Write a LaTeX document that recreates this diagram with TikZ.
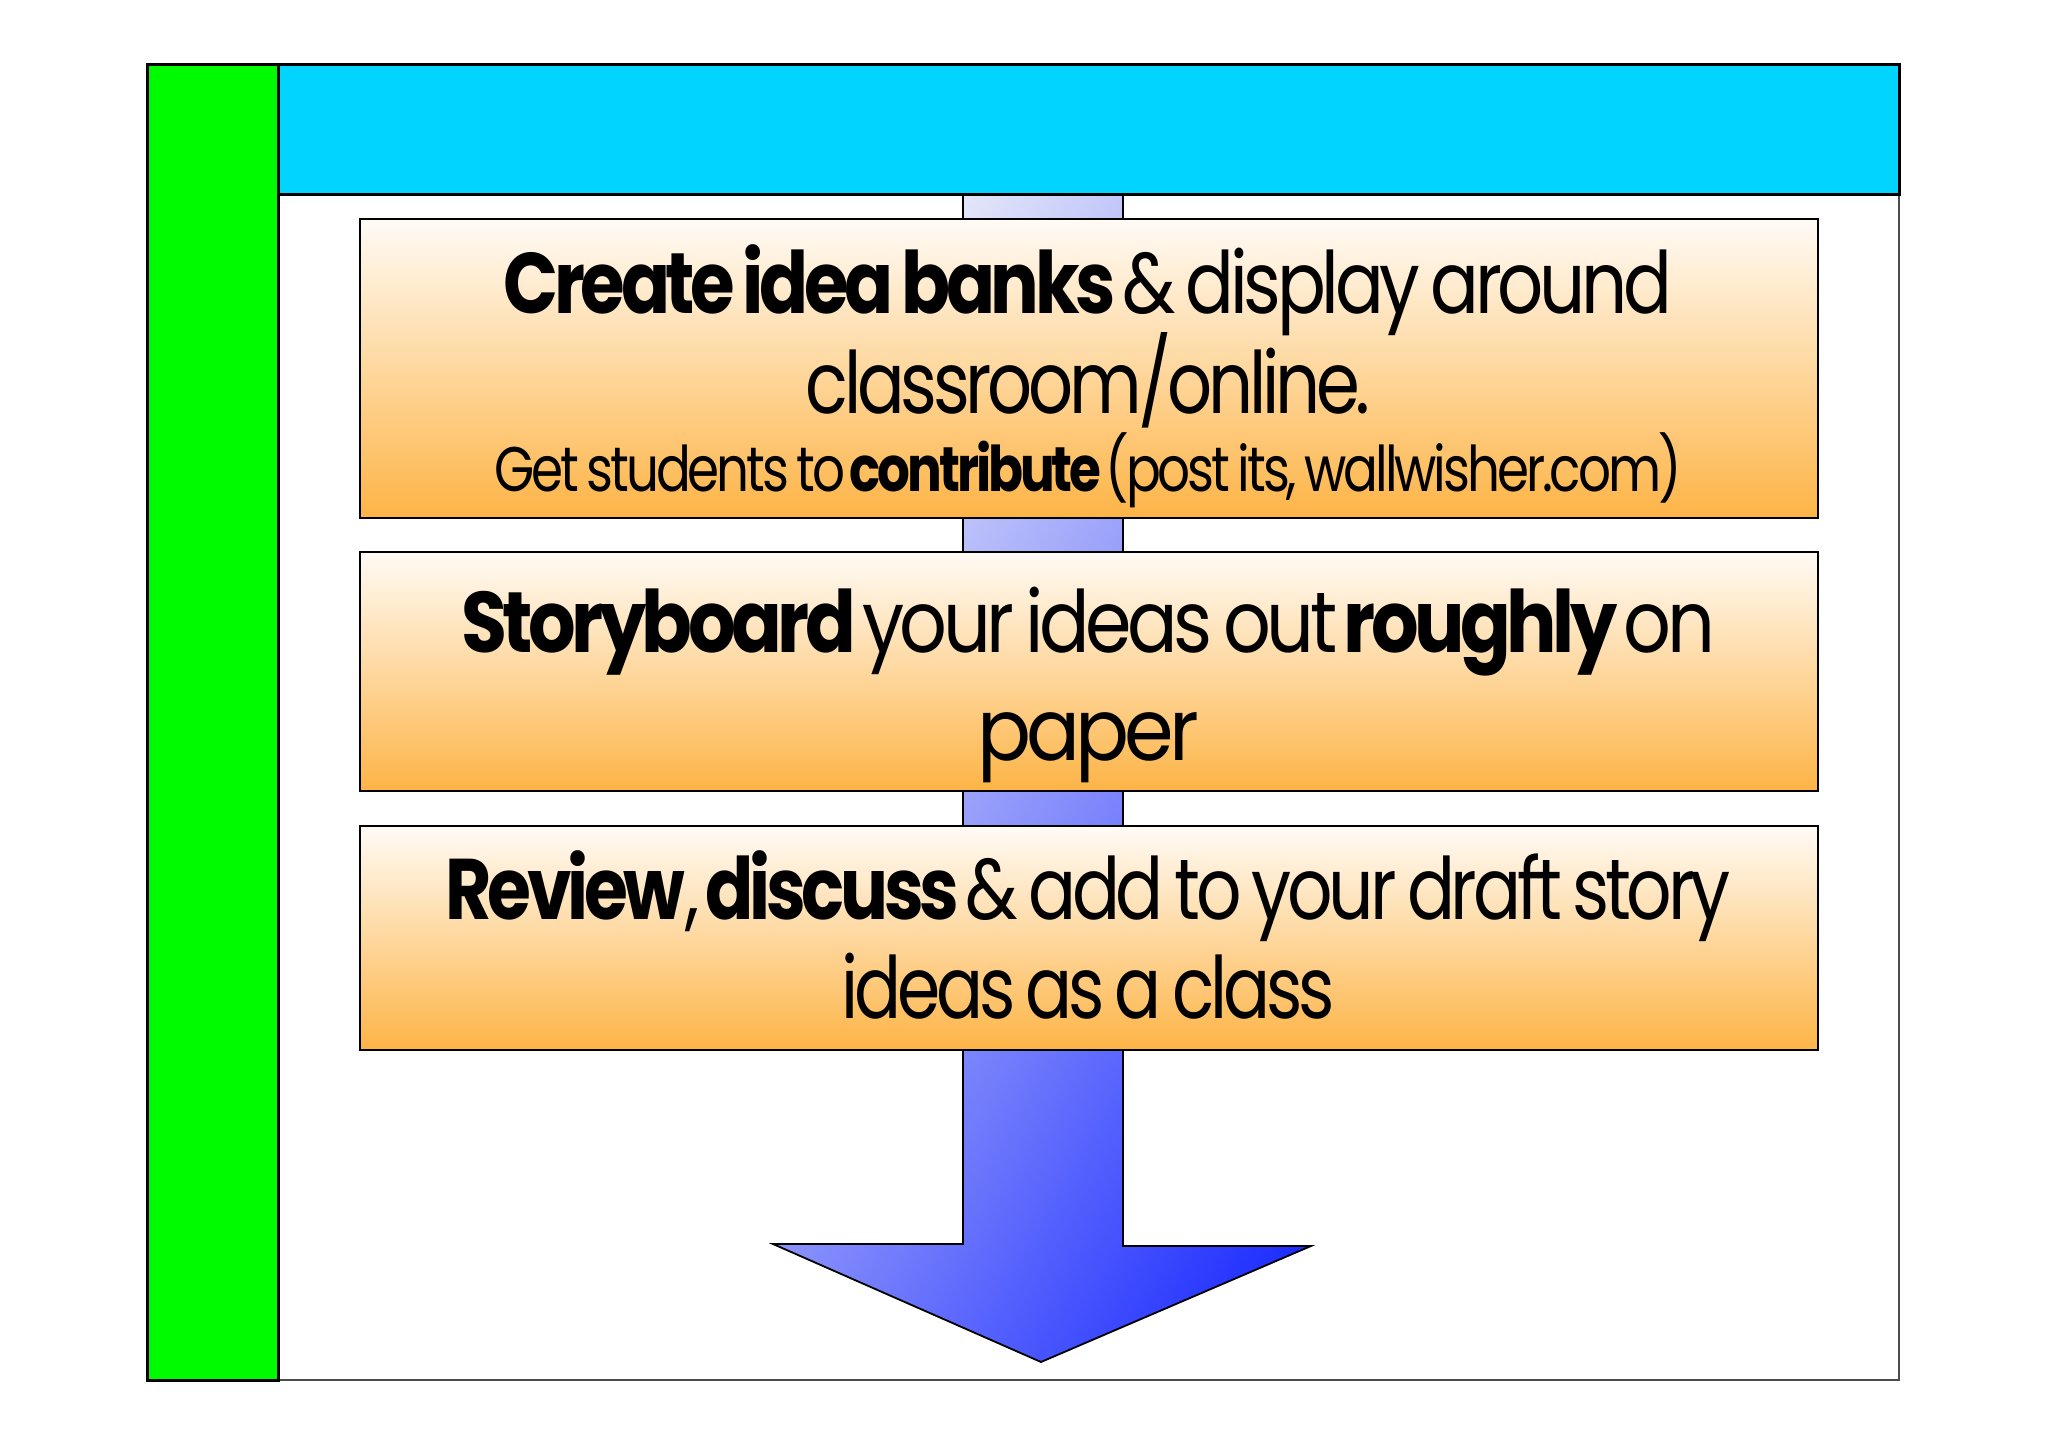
\documentclass[tikz,border=0pt]{standalone}
\usepackage{fontspec}
\setmainfont{Poppins}[LetterSpace=-6,WordSpace=0.7]
\definecolor{cyanbar}{RGB}{0,212,255}
\definecolor{greenbar}{RGB}{0,250,0}
\definecolor{boxtop}{RGB}{255,251,246}
\definecolor{boxbot}{RGB}{253,180,70}
\definecolor{arrtop}{RGB}{232,234,248}
\definecolor{arrbot}{RGB}{26,42,255}
\newsavebox\fitbox
\newcommand\fitw[2]{\sbox\fitbox{#2}\pgfmathsetmacro\fitr{#1/\the\wd\fitbox}\scalebox{\fitr}[1]{\usebox\fitbox}}
\begin{document}
\begin{tikzpicture}[x=1pt,y=1pt,
  stepbox/.style={draw=black, line width=2pt, top color=boxtop, bottom color=boxbot,
    anchor=north west, minimum width=1458pt, inner sep=0pt},
  txt/.style={anchor=base, inner sep=0pt, font=\fontsize{86}{90}\selectfont},
  smalltxt/.style={anchor=base, inner sep=0pt, font=\fontsize{63}{66}\selectfont},
  arrowline/.style={draw=black, line width=1.8pt}]
\useasboundingbox (0,0) rectangle (2048,-1447);
\fill[white] (0,0) rectangle (2048,-1447);
% white frame
\draw[draw=black!70, line width=2pt, fill=white] (278,-195) rectangle (1899,-1380);
% big arrow
\begin{scope}
\clip (963,-195) -- (1123,-195) -- (1123,-1246) -- (1311,-1246) -- (1041,-1362)
  -- (773,-1244) -- (963,-1244) -- cycle;
\shade[transform canvas={shift={(1043,-195)}, rotate=60}, top color=arrtop, bottom color=arrbot]
  (-1500,85) rectangle (1500,-763);
\end{scope}
\draw[arrowline] (963,-195) -- (1123,-195) -- (1123,-1246) -- (1311,-1246) -- (1041,-1362)
  -- (773,-1244) -- (963,-1244) -- cycle;
% boxes
\node[stepbox, minimum height=299pt] (b1) at (359,-218) {};
\node[stepbox, minimum height=239pt] (b2) at (359,-551) {};
\node[stepbox, minimum height=224pt] (b3) at (359,-825) {};
% texts
\node[txt] (t11) at (1088,-313) {\fitw{1169}{\textbf{Create idea banks} \& display around}};
\node[txt] (t12) at (1088,-413) {\fitw{565}{classroom/online.}};
\node[smalltxt] (t13) at (1088,-491) {\fitw{1187}{Get students to \textbf{contribute} (post its, wallwisher.com)}};
\node[txt] (t21) at (1088,-652) {\fitw{1254}{\textbf{Storyboard} your ideas out \textbf{roughly} on}};
\node[txt] (t22) at (1088,-760) {\fitw{222}{paper}};
\node[txt] (t31) at (1088,-919) {\fitw{1285}{\textbf{Review}, \textbf{discuss} \& add to your draft story}};
\node[txt] (t32) at (1088,-1018) {\fitw{493}{ideas as a class}};
% bars
\draw[draw=black, line width=3pt, fill=greenbar] (147,-65) rectangle (278,-1380);
\draw[draw=black, line width=3pt, fill=cyanbar] (278,-65) rectangle (1899,-195);
\end{tikzpicture}
\end{document}
